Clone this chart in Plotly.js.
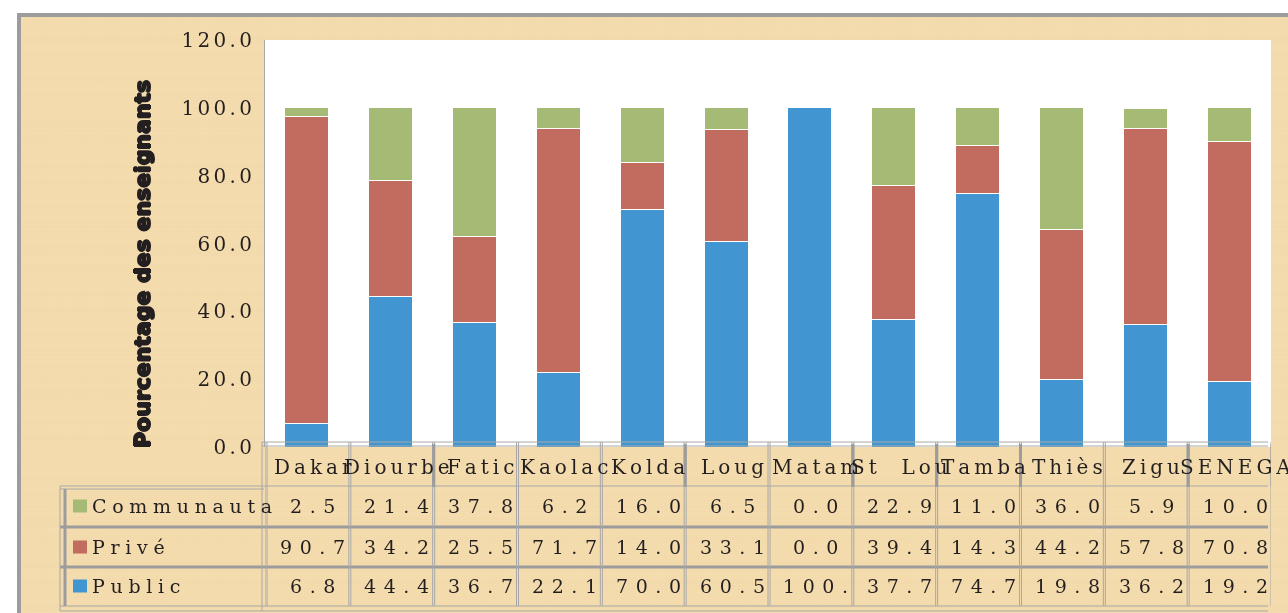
<!DOCTYPE html>
<html>
<head>
<meta charset="utf-8">
<script src="https://cdn.plot.ly/plotly-3.0.1.min.js"></script>
<style>
  html, body { margin: 0; padding: 0; background: #ffffff; }
  #wrap { position: relative; width: 1288px; height: 613px; overflow: hidden; background: #ffffff; }
  #frame { position: absolute; left: 17px; top: 13px; width: 1271px; height: 600px;
           border-left: 4px solid #9c9c9c; border-top: 4px solid #9c9c9c; box-sizing: border-box;
           background: #f4dcae; }
  #tex { position: absolute; left: 21px; top: 17px; }
  #chart { position: absolute; left: 0; top: 0; width: 1288px; height: 613px; }
</style>
</head>
<body>
<div id="wrap">
  <div id="frame"></div>
  <canvas id="tex" width="1267" height="596"></canvas>
  <div id="chart"></div>
</div>
<script>
// ---------------- data ----------------
const categories = ["Dakar", "Diourbe", "Fatic", "Kaolac", "Kolda", "Loug", "Matam", "St  Lou", "Tamba", "Thiès", "Zigu", "SENEGA"];
const seriesNames = ["Communautaire", "Privé", "Public"];
const legendLabels = ["Communauta", "Privé", "Public"];
const communautaire = [2.5, 21.4, 37.8, 6.2, 16.0, 6.5, 0.0, 22.9, 11.0, 36.0, 5.9, 10.0];
const prive = [90.7, 34.2, 25.5, 71.7, 14.0, 33.1, 0.0, 39.4, 14.3, 44.2, 57.8, 70.8];
const publicVals = [6.8, 44.4, 36.7, 22.1, 70.0, 60.5, 100.0, 37.7, 74.7, 19.8, 36.2, 19.2];
const yTickVals = [0, 20, 40, 60, 80, 100, 120];
const yTickLabels = ["0.0", "20.0", "40.0", "60.0", "80.0", "100.0", "120.0"];
const yTitle = "Pourcentage des enseignants";

// ---------------- styles ----------------
const colors = { "Communautaire": "#a4ba75", "Privé": "#c26b5f", "Public": "#4196d2" };
const ink = "#231f20";
const serif = "DejaVu Serif, serif";
const spacedWith = (s, g) => Array.from(s.replace(/ /g, "\u00a0")).join(g);
const spacedVal = s => spacedWith(s, "\u2009\u2009");
const spacedHead = s => spacedWith(s, "\u2009");
const spacedLeg = s => spacedWith(s, "\u2009\u200a");
const spacedTick = s => spacedWith(s, "\u2006");

// background texture (decorative, deterministic)
(function () {
  const c = document.getElementById("tex"), g = c.getContext("2d");
  g.fillStyle = "#f4dcae"; g.fillRect(0, 0, c.width, c.height);
  for (let y = 0; y < c.height; y += 2) {
    const a = 0.035 + 0.03 * Math.sin(y * 0.37) * Math.sin(y * 0.071);
    g.fillStyle = "rgba(200,160,90," + Math.max(0, a).toFixed(3) + ")";
    g.fillRect(0, y, c.width, 1);
  }
  for (let x = 0; x < c.width; x += 3) {
    const a = 0.03 + 0.025 * Math.sin(x * 0.23) * Math.cos(x * 0.047);
    g.fillStyle = "rgba(255,245,220," + Math.max(0, a).toFixed(3) + ")";
    g.fillRect(x, 0, 1, c.height);
  }
})();

// layout geometry helpers (pixel -> paper)
const L = 265, R = 17, T = 40, B = 166, W = 1288, H = 613;
const PW = W - L - R, PH = H - T - B;
const px = p => (p - L) / PW;
const py = p => (T + PH - p) / PH;

const xIdx = categories.map((_, i) => i);

const traces = [
  { name: "Public", y: publicVals },
  { name: "Privé", y: prive },
  { name: "Communautaire", y: communautaire }
].map(s => ({
  type: "bar", name: s.name, x: xIdx, y: s.y,
  marker: { color: colors[s.name], line: { color: "#ffffff", width: 1 } },
  hoverinfo: "skip"
}));

const grid = "#a8a8a8", thick = "#9c9c9c";
const shapes = [];
function hline(yp, x0p, x1p, w, c) {
  shapes.push({ type: "line", xref: "paper", yref: "paper", x0: px(x0p), x1: px(x1p), y0: py(yp), y1: py(yp), line: { color: c, width: w } });
}
function vlineData(xv, y0p, y1p, w, c) {
  shapes.push({ type: "line", xref: "x", yref: "paper", x0: xv, x1: xv, y0: py(y0p), y1: py(y1p), line: { color: c, width: w } });
}
function vlinePx(xp, y0p, y1p, w, c) {
  shapes.push({ type: "line", xref: "paper", yref: "paper", x0: px(xp), x1: px(xp), y0: py(y0p), y1: py(y1p), line: { color: c, width: w } });
}
// table horizontal rules
hline(442, 262, 1268, 1, grid);
hline(446, 262, 1268, 1, grid);
hline(486, 60, 1268, 1, grid);
hline(489, 60, 264, 1, grid);
hline(527, 60, 1268, 3, thick);
hline(567, 60, 1268, 3, thick);
hline(606, 60, 1268, 1, grid);
hline(611, 60, 1268, 1, grid);
// legend column verticals
vlinePx(60, 486, 611, 1, grid);
vlinePx(65, 489, 606, 3, thick);
vlinePx(262, 442, 611, 1, grid);
// column boundaries (category based)
const step = 12 / PW;
for (let k = 0; k <= categories.length; k++) {
  vlineData(k - 0.5, 442, 606, 1, grid);
  vlineData(k - 0.5 + 2 * step, 442, 606, 1, grid);
}
[2, 5, 7, 8, 9, 11, 12].forEach(k => vlineData(k - 0.5 + 1 * step, 444, 487, 3, thick));

// legend squares
const rowY = [506, 547, 586];
const rowData = [communautaire, prive, publicVals];
seriesNames.forEach((n, r) => {
  shapes.push({ type: "rect", xref: "paper", yref: "paper", x0: px(73), x1: px(87), y0: py(rowY[r] - 6.5), y1: py(rowY[r] + 6.5), fillcolor: colors[n], line: { width: 0 } });
});

const annotations = [];
const tfont = { family: serif, size: 19, color: ink };
categories.forEach((c, i) => {
  annotations.push({ xref: "x", yref: "paper", x: i, y: py(467), text: spacedHead(c), showarrow: false, font: { family: serif, size: 20, color: ink }, xanchor: "center", yanchor: "middle", xshift: 6 });
});
rowData.forEach((arr, r) => {
  arr.forEach((v, i) => {
    annotations.push({ xref: "x", yref: "paper", x: i, y: py(rowY[r]), text: spacedVal(v.toFixed(1).slice(0, 4)), showarrow: false, font: tfont, xanchor: "center", yanchor: "middle", xshift: 6 });
  });
  annotations.push({ xref: "paper", yref: "paper", x: px(90), y: py(rowY[r]), text: spacedLeg(legendLabels[r]), showarrow: false, font: tfont, xanchor: "left", yanchor: "middle" });
});
annotations.push({
  xref: "paper", yref: "paper", x: px(142), y: py(264), text: "<b>" + yTitle + "</b>", textangle: -90, showarrow: false,
  font: { family: "DejaVu Sans", size: 22, color: ink, weight: 700, shadow: "1px 0 0 #231f20, -1px 0 0 #231f20, 0 1px 0 #231f20, 0 -1px 0 #231f20" },
  xanchor: "center", yanchor: "middle"
});

const layout = {
  width: W, height: H,
  margin: { l: L, r: R, t: T, b: B, pad: 0 },
  paper_bgcolor: "rgba(0,0,0,0)", plot_bgcolor: "#ffffff",
  barmode: "stack", bargap: 0.475, showlegend: false,
  xaxis: { range: [-0.5, 11.5], showticklabels: false, showgrid: false, zeroline: false, showline: false, ticks: "", fixedrange: true },
  yaxis: {
    range: [0, 120], tickvals: yTickVals, ticktext: yTickLabels.map(spacedTick), ticks: "", showgrid: false, zeroline: false,
    showline: true, linecolor: grid, linewidth: 1, tickfont: { family: serif, size: 20, color: ink }, ticklabelstandoff: 8, fixedrange: true
  },
  shapes, annotations
};

Plotly.newPlot("chart", traces, layout, { displayModeBar: false, staticPlot: true });
</script>
</body>
</html>
